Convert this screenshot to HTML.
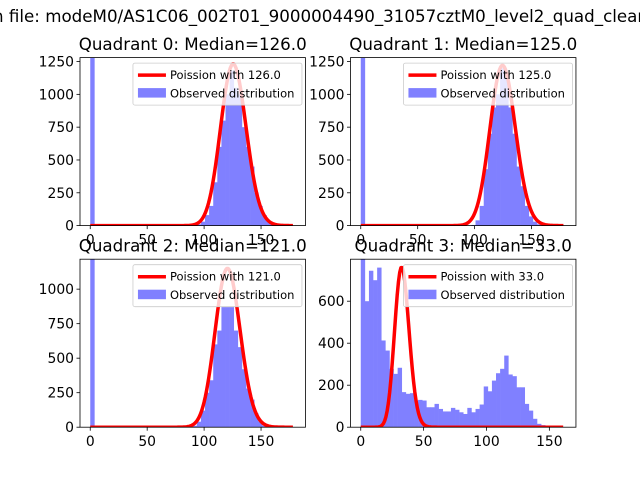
<!DOCTYPE html>
<html><head><meta charset="utf-8"><style>
html,body{margin:0;padding:0;background:#fff;}
svg{display:block;font-family:"DejaVu Sans","Liberation Sans",sans-serif;}
</style></head><body>
<svg id="fig" width="640" height="480" viewBox="0 0 640 480" xmlns="http://www.w3.org/2000/svg">
<rect width="640" height="480" fill="#fff"/>
<text x="-7" y="22" font-size="16.7" fill="#000">n file: modeM0/AS1C06_002T01_9000004490_31057cztM0_level2_quad_clean</text>
</svg>
<script>
// Histogram counts per bin (50 bins each)
const q0Counts = [5000,0,0,0,0,0,0,0,0,0,0,0,0,0,0,0,0,0,0,0,0,0,0,0,0,0,10,30,80,150,330,600,800,1000,1180,1050,1000,750,600,450,250,150,80,30,10,0,0,0,0,0];
const q1Counts = [5000,0,0,0,0,0,0,0,0,0,0,0,0,0,0,0,0,0,0,0,0,0,0,0,0,0,0,5,40,150,430,700,900,1000,1200,1130,900,700,450,300,150,70,30,10,0,0,0,0,0,0];
const q2Counts = [5000,0,0,0,0,0,0,0,0,0,0,0,0,0,0,0,0,0,0,0,0,0,0,0,0,10,40,120,250,340,600,700,870,870,870,700,580,420,280,200,100,40,10,0,0,0,0,0,0,0];
const q3Counts = [820,600,745,700,760,413,365,278,254,283,167,159,162,127,130,127,95,95,111,87,75,75,92,83,71,63,92,71,87,108,194,171,222,257,278,341,251,243,190,190,111,79,40,16,10,3,1,0,0,1];
const medians = [126.0,125.0,121.0,33.0];
const poissonPeaks = [1230,1220,1150,760];
const dataMax = [180,180,180,163];
const yMax = [1280,1280,1217,800];
const yTicks = [[0,250,500,750,1000,1250],[0,250,500,750,1000,1250],[0,250,500,750,1000],[0,200,400,600]];
const xTicks = [[0,50,100,150],[0,50,100,150],[0,50,100,150],[0,50,100,150]];

const NS="http://www.w3.org/2000/svg";
const svg=document.getElementById('fig');
function mk(tag,attrs,parent){const e=document.createElementNS(NS,tag);for(const k in attrs)e.setAttribute(k,attrs[k]);(parent||svg).appendChild(e);return e;}
const allCounts=[q0Counts,q1Counts,q2Counts,q3Counts];
const boxes=[[80,57.6],[350.5,57.6],[80,259.2],[350.5,259.2]];
const W=225.45,H=168;
function logFact(n){let s=0;for(let i=2;i<=n;i++)s+=Math.log(i);return s;}
const groups=[];
for(let q=0;q<4;q++){
  const [L,T]=boxes[q];
  const dmax=dataMax[q], pad=dmax*0.05;
  const xmin=-pad, xmax=dmax+pad;
  const xs=v=>L+(v-xmin)/(xmax-xmin)*W;
  const ys=c=>T+H-c/yMax[q]*H;
  const g=mk('g',{});
  
  
  const clipId='clip'+q;
  const cp=mk('clipPath',{id:clipId},g);
  mk('rect',{x:L,y:T,width:W,height:H},cp);
  const plot=mk('g',{'clip-path':'url(#'+clipId+')'},g);
  const counts=allCounts[q];
  const bw=dmax/counts.length;
  counts.forEach((c,i)=>{
    if(c<=0)return;
    const r=mk('rect',{x:xs(i*bw),y:ys(c),width:xs((i+1)*bw)-xs(i*bw)+0.3,height:ys(0)-ys(c),fill:'#8080ff'},plot);
    
    
  });
  const lam=medians[q];
  const kmax=Math.floor(dmax*0.99);
  let pmf=[],pk=0;
  for(let k=0;k<=kmax;k++){const p=Math.exp(k*Math.log(lam)-lam-logFact(k));pmf.push(p);if(p>pk)pk=p;}
  let d='';
  pmf.forEach((p,k)=>{d+=(k?'L':'M')+xs(k).toFixed(2)+','+ys(p/pk*poissonPeaks[q]).toFixed(2);});
  const pl=mk('path',{d:d,fill:'none',stroke:'#ff0000','stroke-width':3.5,'stroke-linejoin':'round'},plot);
  
  
  mk('rect',{x:L,y:T,width:W,height:H,fill:'none',stroke:'#000','stroke-width':0.8},g);
  xTicks[q].forEach(v=>{
    const x=xs(v);
    mk('line',{x1:x,x2:x,y1:T+H,y2:T+H+3.5,stroke:'#000','stroke-width':0.8},g);
    const t=mk('text',{x:x,y:T+H+19,'font-size':13.9,'text-anchor':'middle',fill:'#000'},g);
    t.textContent=v;
    
    
  });
  yTicks[q].forEach(v=>{
    const y=ys(v);
    mk('line',{x1:L-3.5,x2:L,y1:y,y2:y,stroke:'#000','stroke-width':0.8},g);
    const t=mk('text',{x:L-6,y:y+5,'font-size':13.9,'text-anchor':'end',fill:'#000'},g);
    t.textContent=v;
    
    
  });
  const lg=mk('g',{},g);
  
  
  const lx=L+W-172.5, ly=T+5.5;
  mk('rect',{x:lx,y:ly,width:169,height:42,rx:2,fill:'#fff','fill-opacity':0.8,stroke:'#ccc','stroke-width':0.8},lg);
  mk('line',{x1:lx+5,x2:lx+33,y1:ly+12,y2:ly+12,stroke:'#ff0000','stroke-width':3.5},lg);
  const l1=mk('text',{x:lx+37,y:ly+16,'font-size':11.5,fill:'#000'},lg);
  l1.textContent='Poission with '+medians[q].toFixed(1);
  
  
  mk('rect',{x:lx+5,y:ly+25,width:28,height:9.5,fill:'#8080ff'},lg);
  const l2=mk('text',{x:lx+37,y:ly+34.5,'font-size':11.5,fill:'#000'},lg);
  l2.textContent='Observed distribution';
  
  
  groups.push([L,T]);
}
groups.forEach(([L,T],q)=>{
  const tt=mk('text',{x:L+W/2,y:T-7.5,'font-size':16.7,'text-anchor':'middle',fill:'#000'});
  tt.textContent='Quadrant '+q+': Median='+medians[q].toFixed(1);
  
  
});
</script>
</body></html>
